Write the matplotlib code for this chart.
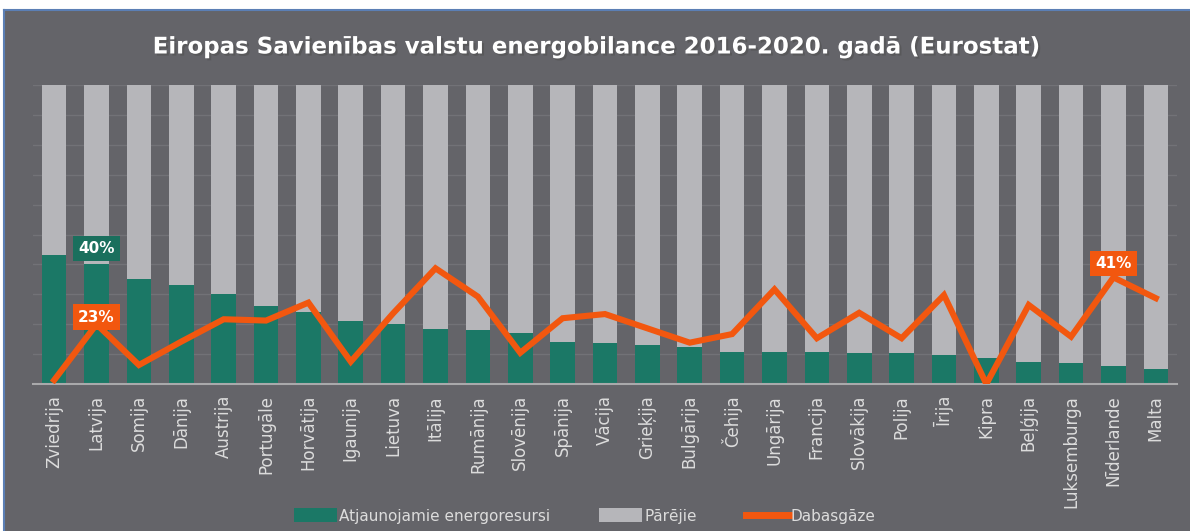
import numpy as np
import matplotlib
matplotlib.use("Agg")
import matplotlib.pyplot as plt
import matplotlib.patheffects as pe
from matplotlib.patches import Rectangle, Patch
from matplotlib.lines import Line2D

# Data (shares of gross energy balance)
countries = [
    "Zviedrija", "Latvija", "Somija", "Dānija", "Austrija", "Portugāle",
    "Horvātija", "Igaunija", "Lietuva", "Itālija", "Rumānija", "Slovēnija",
    "Spānija", "Vācija", "Grieķija", "Bulgārija", "Čehija", "Ungārija",
    "Francija", "Slovākija", "Polija", "Īrija", "Kipra", "Beļģija",
    "Luksemburga", "Nīderlande", "Malta",
]
renewables = [0.43, 0.40, 0.35, 0.33, 0.30, 0.26, 0.24, 0.21, 0.20, 0.185,
              0.18, 0.17, 0.14, 0.136, 0.13, 0.125, 0.108, 0.108, 0.108,
              0.105, 0.105, 0.097, 0.086, 0.075, 0.069, 0.06, 0.049]
natural_gas = [0.015, 0.23, 0.073, 0.163, 0.249, 0.244, 0.313, 0.086, 0.272,
               0.445, 0.336, 0.12, 0.253, 0.269, 0.214, 0.159, 0.192, 0.364,
               0.176, 0.274, 0.176, 0.342, 0.0, 0.304, 0.182, 0.41, 0.33]
other = [1 - r for r in renewables]

labels = ["Atjaunojamie energoresursi", "Pārējie", "Dabasgāze"]
title = "Eiropas Savienības valstu energobilance 2016-2020. gadā (Eurostat)"

# Colours
panel_bg = "#646469"
green = "#1b7866"
grey = "#b6b6ba"
orange = "#f2570f"
text_col = "#dcdcdc"

W, H = 1190, 531
fig = plt.figure(figsize=(W / 100, H / 100), dpi=100)
fig.patch.set_facecolor(panel_bg)

# white margin + thin blue frame like the original screenshot
fig.add_artist(Rectangle((0, 1 - 10 / H), 1, 10 / H, transform=fig.transFigure,
                         facecolor="white", edgecolor="none", zorder=0))
fig.add_artist(Rectangle((0, 0), 4 / W, 1, transform=fig.transFigure,
                         facecolor="white", edgecolor="none", zorder=0))
fig.add_artist(Line2D([4 / W, 1], [1 - 10 / H, 1 - 10 / H], transform=fig.transFigure,
                      color="#5b7fb5", lw=1.5))
fig.add_artist(Line2D([4 / W, 4 / W], [0, 1 - 10 / H], transform=fig.transFigure,
                      color="#5b7fb5", lw=1.5))

ax = fig.add_axes([33 / W, 147 / H, 1144 / W, 299 / H])
ax.set_facecolor(panel_bg)
x = np.arange(len(countries))
bw = 0.58

ax.bar(x, renewables, bw, color=green, zorder=2)
ax.bar(x, other, bw, bottom=renewables, color=grey, zorder=2)

# natural gas on a hidden secondary axis
ax2 = ax.twinx()
ax2.set_ylim(0, 1.15)
ax2.plot(x, natural_gas, color=orange, lw=4.4, solid_joinstyle="miter", zorder=5)
ax2.axis("off")

ax.set_xlim(-0.5, len(countries) - 0.5)
ax.set_ylim(0, 1)
ax.set_yticks(np.arange(0, 1.01, 0.1))
ax.yaxis.grid(True, color="#727277", lw=1)
ax.set_axisbelow(True)
ax.tick_params(axis="y", left=False, right=False, labelleft=False, labelright=False)
ax.set_xticks(x)
ax.set_xticklabels(countries, rotation=90, color=text_col, fontsize=12,
                   family="DejaVu Sans")
ax.tick_params(axis="x", length=0, pad=8)
for s in ["top", "right", "left"]:
    ax.spines[s].set_visible(False)
ax.spines["bottom"].set_color("#a9a9ab")
ax.spines["bottom"].set_linewidth(1.5)
ax.spines["bottom"].set_zorder(3)

box = dict(boxstyle="square,pad=0.35", edgecolor="none")
i_lv = countries.index("Latvija")
i_nl = countries.index("Nīderlande")
ax.annotate(f"{renewables[i_lv]:.0%}", (x[i_lv], renewables[i_lv]),
            xytext=(0, 16), textcoords="offset pixels", ha="center", va="center",
            color="white", fontsize=11, fontweight="bold",
            bbox=dict(box, facecolor="#1a6f5d"), zorder=6)
ax2.annotate(f"{natural_gas[i_lv]:.0%}", (x[i_lv], natural_gas[i_lv]),
             xytext=(0, 7), textcoords="offset pixels", ha="center", va="center",
             color="white", fontsize=11, fontweight="bold",
             bbox=dict(box, facecolor=orange), zorder=6)
ax2.annotate(f"{natural_gas[i_nl]:.0%}", (x[i_nl], natural_gas[i_nl]),
             xytext=(0, 14), textcoords="offset pixels", ha="center", va="center",
             color="white", fontsize=11, fontweight="bold",
             bbox=dict(box, facecolor=orange), zorder=6)

fig.text(0.5, 1 - 47 / H, title, ha="center", va="center", color="white",
         fontsize=16.5, fontweight="bold",
         path_effects=[pe.withSimplePatchShadow(offset=(1.5, -1.5), alpha=0.5)])

handles = [Patch(facecolor=green), Patch(facecolor=grey),
           Line2D([], [], color=orange, lw=5)]
fig.legend(handles, labels, loc="center", bbox_to_anchor=(585 / W, 1 - 516 / H),
           ncol=3, frameon=False, fontsize=11, labelcolor=text_col,
           handlelength=2.8, handleheight=1.0, handletextpad=0.15, columnspacing=3.2)

fig.savefig("out.png", dpi=100, facecolor=fig.get_facecolor())
